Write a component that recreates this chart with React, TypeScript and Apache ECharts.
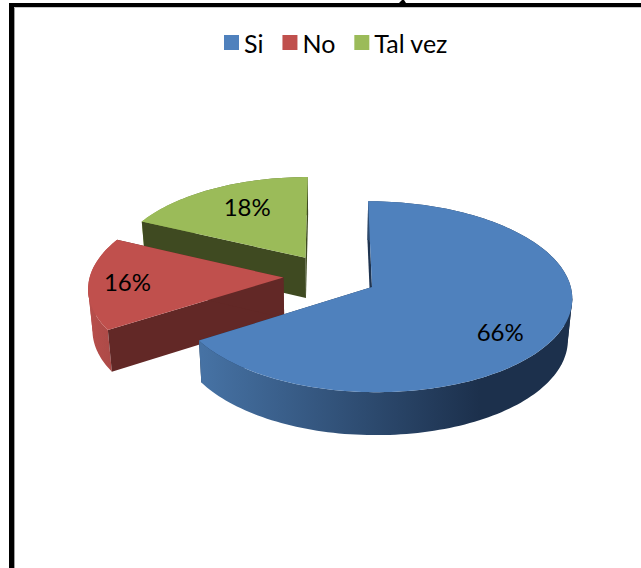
import React, { useEffect, useRef } from "react";
import * as echarts from "echarts";

// Survey answers, in percent, clockwise from twelve o'clock.
const categories = ["Si", "No", "Tal vez"];
const shares = [66, 16, 18];
const topColors = ["#4f81bd", "#c0504d", "#9bbb59"];

// Shading of the extruded faces for each slice.
const cutColors = ["#1f3450", "#622826", "#3f4a21"];
const wallFrom = ["#4672a4", "#b84f4c", "#9bbb59"];
const wallTo = ["#1c304c", "#9a423f", "#5f7335"];

// Projection of the tilted pie: plane coordinates (u right, v toward the viewer) to pixels.
const CX = 330;
const CY = 276.2;
const RX_RIGHT = 196.5;
const RX_LEFT = 193.5;
const RY = 92.3;
const PERSPECTIVE = 0.1;
const DEPTH = 40.5;
const DEPTH_SHRINK = 0.018;
const EXPLODE = 0.241;
const LABEL_RADIUS = 0.75;
const LABEL_NUDGE = [[-9, 9], [-10, 0], [12, 2]];
const PATCH_STEPS = 10;
const FONT = "Lato, 'Open Sans', sans-serif";

function project(u: number, v: number, lowered: boolean): number[] {
  const s = 1 / (1 - PERSPECTIVE * v);
  const shrink = lowered ? 1 - DEPTH_SHRINK : 1;
  const rx = u < 0 ? RX_LEFT : RX_RIGHT;
  return [CX + rx * u * s * shrink, CY + RY * v * s + (lowered ? DEPTH * Math.sqrt(s) : 0)];
}

function drawSlice(index: number, value: number) {
  const total = shares.reduce((a, b) => a + b, 0);
  const before = shares.slice(0, index).reduce((a, b) => a + b, 0);
  const a0 = (before / total) * Math.PI * 2;
  const a1 = ((before + value) / total) * Math.PI * 2;
  const mid = (a0 + a1) / 2;
  const ou = EXPLODE * Math.sin(mid);
  const ov = -EXPLODE * Math.cos(mid);

  const rim = (a: number, r: number): [number, number] => [ou + r * Math.sin(a), ov - r * Math.cos(a)];
  const steps = Math.ceil((a1 - a0) / (Math.PI / 120));
  const angles = Array.from({ length: steps + 1 }, (_, i) => a0 + ((a1 - a0) * i) / steps);

  const topArc = angles.map((a) => project(...rim(a, 1), false));
  const lowArc = angles.map((a) => project(...rim(a, 1), true));
  const apexTop = project(ou, ov, false);
  const apexLow = project(ou, ov, true);

  const xs = topArc.map((p) => p[0]);
  const wallFill = new echarts.graphic.LinearGradient(
    index === 0 ? 202 : Math.min(...xs),
    0,
    index === 0 ? 480 : Math.min(...xs) + 60,
    0,
    [
      { offset: 0, color: wallFrom[index] },
      { offset: 1, color: wallTo[index] },
    ],
    true
  );

  const face = (points: number[][], fill: any) => ({
    type: "polygon",
    shape: { points },
    style: { fill },
  });

  // Where the rim turns back horizontally, the band between the two arcs folds over
  // itself; short patches fill the silhouette there.
  const turning = [xs.indexOf(Math.min(...xs)), xs.indexOf(Math.max(...xs))].filter((i) => i > 0 && i < steps);
  const patches = turning.flatMap((i) =>
    [i - PATCH_STEPS, i + PATCH_STEPS]
      .filter((j) => j >= 0 && j <= steps)
      .map((j) => face([topArc[i], lowArc[i], lowArc[j], topArc[j]], wallFill))
  );
  const wall = [face([...topArc, ...lowArc.slice().reverse()], wallFill), ...patches];
  const cuts = [
    face([apexTop, topArc[0], lowArc[0], apexLow], cutColors[index]),
    face([apexTop, topArc[steps], lowArc[steps], apexLow], cutColors[index]),
  ];
  // A slice wider than a half turn has its cut faces inside the notch, behind its wall.
  const sides = a1 - a0 > Math.PI ? [...cuts, ...wall] : [...wall, ...cuts];

  const labelAt = project(...rim(mid, LABEL_RADIUS), false);
  return {
    type: "group",
    children: [
      ...sides,
      face([apexTop, ...topArc], topColors[index]),
      {
        type: "text",
        style: {
          text: `${value}%`,
          x: labelAt[0] + LABEL_NUDGE[index][0],
          y: labelAt[1] + LABEL_NUDGE[index][1],
          fill: "#000000",
          fontSize: 24,
          fontFamily: FONT,
          align: "center",
          verticalAlign: "middle",
        },
      },
    ],
  };
}

export default function App() {
  const ref = useRef<HTMLDivElement>(null);

  useEffect(() => {
    const chart = echarts.init(ref.current!, null, { renderer: "svg" });
    // Back slices are painted first so the large one overlaps them.
    const paintOrder = [2, 1, 0];
    chart.setOption({
      animation: false,
      backgroundColor: "#ffffff",
      legend: {
        data: categories,
        top: 25,
        left: 219,
        icon: "rect",
        itemWidth: 15,
        itemHeight: 15,
        itemGap: 19,
        selectedMode: false,
        textStyle: { fontFamily: FONT, fontSize: 25, color: "#000000" },
      },
      series: paintOrder.map((i) => ({
        type: "custom",
        name: categories[i],
        coordinateSystem: "none",
        silent: true,
        itemStyle: { color: topColors[i] },
        data: [[shares[i]]],
        renderItem: (_: any, api: any) => drawSlice(i, api.value(0)),
      })),
      graphic: [
        { type: "rect", shape: { x: 9, y: 3, width: 632, height: 4 }, style: { fill: "#000000" } },
        { type: "rect", shape: { x: 9, y: 3, width: 5, height: 565 }, style: { fill: "#000000" } },
        { type: "rect", shape: { x: 14, y: 7, width: 1, height: 561 }, style: { fill: "#a0a0a0" } },
        { type: "rect", shape: { x: 14, y: 7, width: 627, height: 1 }, style: { fill: "#c8c8c8" } },
        { type: "polygon", shape: { points: [[402, 0], [404, 0], [406, 3], [399, 3]] }, style: { fill: "#000000" } },
      ],
    });
    return () => chart.dispose();
  }, []);

  return <div ref={ref} style={{ position: "absolute", left: 0, top: 0, width: 641, height: 568 }} />;
}
